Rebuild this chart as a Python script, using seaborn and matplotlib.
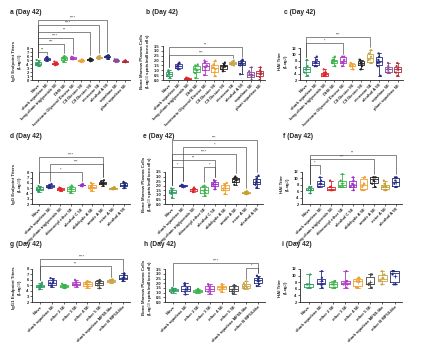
import numpy as np
import pandas as pd
import matplotlib
matplotlib.use("Agg")
import matplotlib.pyplot as plt
import seaborn as sns

sns.set_style("ticks")
plt.rcParams['font.family'] = ['Liberation Sans', 'DejaVu Sans']

W, H = 423, 349

# ---------------- categories ----------------
cats_row1 = ["Naive", "shark squalene 5E", "long-chain triglyceride 5E", "DHS 5E",
             "Isostearic Glycerol Diester 5E", "C8 Diester 5E", "C9 Diester 5E",
             "eicosane 5E", "alcohol A 5E", "squalane 5E", "plant squalene 5E"]
cats_row2 = ["Naive", "shark squalene 5E", "long-chain triglyceride 5E", "diisooctyl ether 5E",
             "alcohol C 5E", "aldehyde A 5E", "amide A 5E", "ester A 5E", "alcohol A 5E"]
cats_row3 = ["Naive", "shark squalene 5E", "ether 2 5E", "ether 3 5E", "ether 4 5E",
             "ether 5 5E", "shark squalene MF59-like", "ether B MF59-like"]

colors_row1 = ['#2f9e5f', '#2b2d8f', '#e0262b', '#3ab54a', '#b03ac6', '#f0a030',
               '#222222', '#c9a448', '#1f2a7a', '#8a4a9a', '#b22a3a']
colors_row2 = ['#2f9e5f', '#2b2d8f', '#e0262b', '#3ab54a', '#9b30c8', '#f0a030',
               '#222222', '#c8a030', '#1f2a7a']
colors_row3 = ['#2f9e5f', '#2b2d8f', '#3ab54a', '#b03ac6', '#f0a030', '#444444',
               '#c9a448', '#1f2a7a']

# ---------------- values ----------------
a_vals = [[3.5, 3.8, 4.0, 4.1, 4.5, 5.0], [4.8, 5.0, 5.2, 5.3, 5.6, 5.8],
          [3.7, 3.9, 4.0, 4.2, 4.4, 4.6], [4.5, 5.0, 5.3, 5.5, 5.8, 6.0],
          [5.2, 5.3, 5.5, 5.6, 5.7, 5.8], [4.6, 4.7, 4.9, 5.0, 5.0, 5.1],
          [4.8, 4.9, 5.1, 5.2, 5.3, 5.4], [5.3, 5.5, 5.6, 5.8, 5.9, 6.0],
          [5.3, 5.6, 5.8, 5.9, 6.1, 6.2], [4.5, 4.7, 4.8, 5.0, 5.1, 5.2],
          [4.5, 4.6, 4.7, 4.7, 4.8, 4.9]]
b_vals = [[0.2, 0.4, 0.6, 0.7, 0.9, 1.0], [1.1, 1.2, 1.4, 1.5, 1.7, 1.8],
          [0.05, 0.1, 0.15, 0.15, 0.2, 0.25], [0.2, 0.7, 1.0, 1.2, 1.5, 1.6],
          [0.5, 1.0, 1.3, 1.5, 1.8, 2.0], [0.4, 0.8, 1.1, 1.3, 1.6, 2.0],
          [0.9, 1.1, 1.4, 1.5, 1.6, 1.8], [1.5, 1.6, 1.8, 1.8, 1.9, 2.0],
          [0.6, 1.5, 1.7, 1.8, 2.0, 2.1], [0.0, 0.3, 0.5, 0.6, 0.9, 1.3],
          [0.0, 0.3, 0.6, 0.8, 1.0, 1.3]]
c_vals = [[3.32, 4.32, 5.32, 5.32, 6.32, 8.32], [6.32, 6.32, 7.32, 7.32, 8.32, 9.32],
          [3.32, 3.32, 3.32, 4.32, 4.32, 5.32], [6.32, 7.32, 7.32, 8.32, 8.32, 9.32],
          [6.32, 7.32, 7.32, 8.32, 9.32, 9.32], [5.32, 6.32, 6.32, 6.32, 7.32, 7.32],
          [5.32, 6.32, 7.32, 7.32, 8.32, 8.32], [7.32, 7.32, 8.32, 9.32, 10.32, 11.32],
          [3.32, 6.32, 7.32, 8.32, 9.32, 10.32], [4.32, 4.32, 5.32, 5.32, 6.32, 7.32],
          [3.32, 4.32, 5.32, 5.32, 6.32, 7.32]]
d_vals = [[4.3, 4.6, 4.8, 5.0, 5.2, 5.4], [5.0, 5.1, 5.3, 5.4, 5.6, 5.8],
          [4.5, 4.6, 4.8, 4.9, 5.0, 5.1], [4.1, 4.4, 4.8, 5.0, 5.3, 5.5],
          [5.4, 5.5, 5.6, 5.6, 5.7, 5.8], [4.5, 4.9, 5.2, 5.4, 5.7, 6.0],
          [5.5, 5.8, 6.0, 6.1, 6.3, 6.5], [4.8, 4.9, 5.0, 5.0, 5.1, 5.2],
          [5.0, 5.3, 5.5, 5.7, 6.0, 6.2]]
e_vals = [[0.7, 1.1, 1.3, 1.4, 1.6, 1.7], [1.9, 1.95, 2.0, 2.0, 2.05, 2.1],
          [1.3, 1.4, 1.6, 1.6, 1.7, 1.8], [0.9, 1.2, 1.4, 1.6, 1.9, 2.0],
          [1.6, 1.9, 2.1, 2.2, 2.4, 2.6], [1.1, 1.5, 1.7, 1.9, 2.1, 2.3],
          [2.1, 2.4, 2.6, 2.8, 2.9, 3.0], [1.1, 1.15, 1.2, 1.25, 1.3, 1.4],
          [1.8, 2.1, 2.3, 2.5, 2.8, 3.1]]
f_vals = [[5.32, 6.32, 6.32, 6.32, 7.32, 7.32], [7.32, 7.32, 8.32, 8.32, 9.32, 10.32],
          [6.32, 6.32, 6.32, 7.32, 7.32, 9.32], [7.32, 7.32, 7.32, 8.32, 9.32, 11.32],
          [6.32, 7.32, 7.32, 8.32, 9.32, 10.32], [6.32, 6.32, 7.32, 8.32, 10.32, 10.32],
          [7.32, 8.32, 9.32, 10.32, 10.32, 10.32], [6.32, 6.32, 7.32, 7.32, 8.32, 9.32],
          [7.32, 7.32, 8.32, 9.32, 10.32, 10.32]]
g_vals = [[4.3, 4.6, 4.8, 5.0, 5.2, 5.5], [4.8, 5.0, 5.4, 5.6, 6.0, 6.3],
          [4.5, 4.7, 4.8, 5.0, 5.1, 5.3], [4.8, 5.0, 5.2, 5.4, 5.6, 6.0],
          [4.6, 4.9, 5.2, 5.4, 5.6, 5.8], [4.5, 5.0, 5.4, 5.6, 5.8, 6.0],
          [5.5, 5.6, 5.8, 5.9, 6.0, 6.1], [5.8, 6.0, 6.3, 6.5, 6.9, 7.2]]
h_vals = [[1.0, 1.1, 1.2, 1.3, 1.4, 1.5], [0.8, 1.1, 1.3, 1.5, 1.8, 2.0],
          [1.0, 1.1, 1.15, 1.2, 1.3, 1.4], [0.9, 1.1, 1.3, 1.5, 1.7, 1.9],
          [1.1, 1.3, 1.5, 1.6, 1.8, 1.9], [0.9, 1.1, 1.3, 1.5, 1.7, 1.8],
          [1.4, 1.5, 1.6, 1.8, 2.0, 2.2], [1.7, 1.9, 2.2, 2.4, 2.6, 2.8]]
i_vals = [[6.32, 6.32, 7.32, 7.32, 7.32, 10.32], [6.32, 7.32, 7.32, 8.32, 9.32, 11.32],
          [6.32, 6.32, 7.32, 7.32, 8.32, 8.32], [6.32, 7.32, 7.32, 8.32, 8.32, 11.32],
          [6.32, 6.32, 8.32, 8.32, 9.32, 9.32], [6.32, 7.32, 7.32, 7.32, 10.32, 10.32],
          [7.32, 8.32, 8.32, 9.32, 10.32, 11.32], [7.32, 7.32, 10.32, 11.32, 11.32, 11.32]]

# ---------------- significance brackets (group i, group j, level, label) ----------------
a_sig = [(0, 8, 15.0, '****'), (0, 7, 13.7, '****'), (0, 6, 12.0, '**'),
         (0, 4, 10.5, '****'), (0, 3, 9.0, '***'), (0, 1, 7.0, '**')]
b_sig = [(0, 8, 3.4, '**'), (0, 7, 2.6, '***')]
c_sig = [(0, 7, 15.4, '***'), (0, 4, 13.6, '*')]
d_sig = [(0, 6, 10.9, '****'), (1, 6, 9.6, '***'), (0, 4, 8.0, '*')]
e_sig = [(0, 8, 7.0, '***'), (1, 7, 6.2, '*'), (0, 6, 5.5, '****'),
         (0, 4, 4.8, '**'), (0, 1, 4.0, '*'), (3, 4, 4.0, '*')]
f_sig = [(0, 8, 17.3, '**'), (0, 6, 16.1, '***'), (0, 1, 14.2, '*')]
g_sig = [(0, 7, 9.8, '****'), (0, 6, 8.5, '**')]
h_sig = [(0, 7, 4.2, '****'), (6, 7, 3.6, '*')]
i_sig = []

lab_igg = "IgG Endpoint Titers\n(Log$_{10}$)"
lab_igg1 = "IgG1 Endpoint Titers\n(Log$_{10}$)"
lab_bm = "Bone Marrow Plasma Cells\n(Log$_{10}$ spots/million cells)"
lab_hai = "HAI Titer\n(Log$_2$)"

fig = plt.figure(figsize=(W / 100, H / 100), dpi=100)


def panel(px, title, tpos, cats, vals, colors, ylim, ticks, ylabel, sigs):
    x0, y0, x1, y1 = px
    ax = fig.add_axes([x0 / W, 1 - y1 / H, (x1 - x0) / W, (y1 - y0) / H])
    df = pd.DataFrame({"group": np.repeat(cats, [len(v) for v in vals]),
                       "value": np.concatenate(vals)})
    pal = dict(zip(cats, colors))
    sns.boxplot(data=df, x="group", y="value", hue="group", order=cats, hue_order=cats,
                palette=pal, fill=False, whis=(0, 100), width=0.7, linewidth=0.6,
                showmeans=True, showfliers=False,
                meanprops=dict(marker="+", markersize=2.4, markeredgewidth=0.5),
                legend=False, ax=ax)
    means = [l for l in ax.lines if l.get_marker() == "+"]
    means.sort(key=lambda l: l.get_xdata()[0])
    for l, c in zip(means, colors):
        l.set_markeredgecolor(c)
        l.set_markerfacecolor(c)
    sns.stripplot(data=df, x="group", y="value", hue="group", order=cats, hue_order=cats,
                  palette=pal, size=1.6, jitter=0.17, legend=False, ax=ax, zorder=3)
    n = len(cats)
    ax.set_xlim(-0.7, n - 0.4)
    ax.set_ylim(*ylim)
    ax.set_yticks(ticks)
    if ticks[-1] - ticks[0] < 5:
        ax.set_yticklabels([f"{t:.1f}" for t in ticks])
    else:
        ax.set_yticklabels([f"{t:g}" for t in ticks])
    ax.spines["top"].set_visible(False)
    ax.spines["right"].set_visible(False)
    ax.spines["left"].set_bounds(ticks[0], ticks[-1])
    ax.spines["left"].set_linewidth(0.6)
    ax.spines["bottom"].set_linewidth(0.6)
    ax.tick_params(axis="both", length=1.5, width=0.5, pad=0.8, labelsize=3)
    ax.set_xlabel("")
    ax.set_ylabel(ylabel, fontsize=3.2, fontweight="bold", labelpad=1.5, y=0.3, linespacing=1.0)
    for lbl in ax.get_xticklabels() + ax.get_yticklabels():
        lbl.set_fontweight("bold")
    for lbl in ax.get_xticklabels():
        lbl.set_rotation(45)
        lbl.set_ha("right")
        lbl.set_rotation_mode("anchor")
    rng = ylim[1] - ylim[0]
    gap = 0.05 * rng
    for i, j, lev, txt in sigs:
        yi = max(vals[i]) + gap
        yj = max(vals[j]) + gap
        ax.plot([i, i, j, j], [yi, lev, lev, yj], color="#444444", lw=0.45, clip_on=False)
        ax.text((i + j) / 2, lev + 0.005 * rng, txt, ha="center", va="bottom",
                fontsize=2.8, color="#333333")
    fig.text(tpos[0] / W, 1 - tpos[1] / H, title, fontsize=4.8, fontweight="bold",
             ha="left", va="center")
    return ax


panel((32, 18, 130, 80), "a (Day 42)", (10, 13), cats_row1, a_vals, colors_row1,
      (0, 15.5), np.arange(0, 9, 1), lab_igg, a_sig)
panel((163, 18, 265, 80), "b (Day 42)", (146, 13), cats_row1, b_vals, colors_row1,
      (0, 6.4), np.arange(0, 3.51, 0.5), lab_bm, b_sig)
panel((300, 18, 403, 80), "c (Day 42)", (284, 13), cats_row1, c_vals, colors_row1,
      (2, 21.4), np.arange(2, 13, 2), lab_hai, c_sig)

panel((32, 138, 130, 204), "d (Day 42)", (10, 137), cats_row2, d_vals, colors_row2,
      (2, 14.5), np.arange(2, 9, 1), lab_igg, d_sig)
panel((165, 138, 263, 204), "e (Day 42)", (143, 137), cats_row2, e_vals, colors_row2,
      (0, 7.2), np.arange(0, 3.51, 0.5), lab_bm, e_sig)
panel((302, 138, 402, 204), "f (Day 42)", (283, 137), cats_row2, f_vals, colors_row2,
      (2, 22.6), np.arange(2, 13, 2), lab_hai, f_sig)

panel((32, 255, 130, 302), "g (Day 42)", (10, 244), cats_row3, g_vals, colors_row3,
      (2, 10.5), np.arange(2, 9, 1), lab_igg1, g_sig)
panel((165, 255, 265, 302), "h (Day 42)", (144, 244), cats_row3, h_vals, colors_row3,
      (0, 5.0), np.arange(0, 3.51, 0.5), lab_bm, h_sig)
panel((300, 255, 402, 302), "i (Day 42)", (282, 244), cats_row3, i_vals, colors_row3,
      (2, 16.2), np.arange(2, 13, 2), lab_hai, i_sig)

fig.savefig("out.png", dpi=100)
